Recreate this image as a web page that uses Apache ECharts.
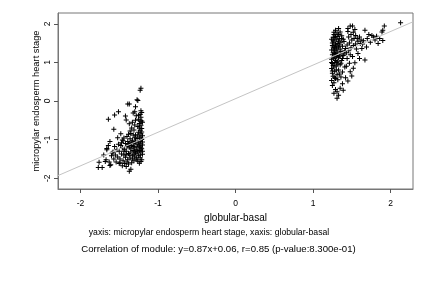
<!DOCTYPE html><html><head><meta charset="utf-8">
<script src="https://cdn.jsdelivr.net/npm/echarts@6/dist/echarts.min.js"></script>
<style>html,body{margin:0;padding:0;background:#fff}#c{width:432px;height:288px}</style>
</head><body><div id="c"></div><script>
const xTicks=[-2,-1,0,1,2];
const yTicks=[-2,-1,0,1,2];
const xTitle='globular-basal';
const yTitle='micropylar endosperm heart stage';
const subtitle1='yaxis: micropylar endosperm heart stage, xaxis: globular-basal';
const subtitle2='Correlation of module: y=0.87x+0.06, r=0.85 (p-value:8.300e-01)';
const fitSlope=0.87, fitIntercept=0.06;
const xRange=[-2.29,2.29];
const yRange=[-2.28,2.28];
const groupA=[
[-1.23,0.28],[-1.22,0.33],[-1.26,0.01],[-1.27,0.03],[-1.39,-0.08],[-1.37,-0.08],[-1.29,-0.15],[-1.51,-0.28],[-1.56,-0.36],[-1.64,-0.47],[-1.42,-0.39],[-1.57,-0.73],[-1.64,-1.15],[-1.66,-1.23],[-1.76,-1.59],[-1.77,-1.72],[-1.72,-1.72],[-1.68,-1.57],[-1.62,-1.67],[-1.35,-1.77],[-1.37,-1.82],
[-1.21,-0.30],[-1.23,-0.35],[-1.22,-0.42],[-1.25,-0.47],[-1.21,-0.52],[-1.24,-0.58],[-1.22,-0.63],[-1.26,-0.66],[-1.21,-0.71],[-1.23,-0.76],[-1.25,-0.81],[-1.22,-0.85],[-1.20,-0.90],[-1.24,-0.93],[-1.27,-0.97],[-1.21,-1.00],[-1.23,-1.04],[-1.25,-1.07],[-1.22,-1.11],[-1.20,-1.14],[-1.26,-1.17],[-1.23,-1.20],[-1.21,-1.24],[-1.24,-1.28],[-1.22,-1.32],[-1.27,-1.35],[-1.20,-1.38],[-1.25,-1.42],[-1.23,-1.47],[-1.21,-1.52],[-1.26,-1.56],[-1.24,-1.61],[-1.22,-0.25],[-1.28,-0.38],[-1.29,-0.88],[-1.28,-1.25],[-1.30,-1.45],
[-1.20,-0.55],[-1.24,-0.70],[-1.21,-0.80],[-1.26,-0.88],[-1.22,-0.96],[-1.20,-1.06],[-1.27,-1.12],[-1.24,-1.16],[-1.22,-1.22],[-1.20,-1.30],[-1.26,-1.30],[-1.23,-1.40],[-1.28,-1.48],[-1.22,-1.57],[-1.25,-0.37],[-1.23,-0.52],
[-1.30,-0.95],[-1.33,-1.02],[-1.36,-0.98],[-1.39,-1.05],[-1.42,-1.10],[-1.45,-1.03],[-1.48,-1.15],[-1.31,-1.10],[-1.34,-1.15],[-1.37,-1.20],[-1.40,-1.18],[-1.43,-1.25],[-1.46,-1.22],[-1.50,-1.30],[-1.53,-1.26],[-1.32,-1.28],[-1.35,-1.32],[-1.38,-1.36],[-1.41,-1.30],[-1.44,-1.40],[-1.47,-1.37],[-1.52,-1.45],[-1.55,-1.40],[-1.33,-1.42],[-1.36,-1.48],[-1.39,-1.52],[-1.42,-1.46],[-1.45,-1.55],[-1.49,-1.50],[-1.31,-1.55],[-1.34,-1.60],[-1.38,-1.63],[-1.43,-1.62],[-1.30,-1.20],[-1.29,-1.35],[-1.32,-0.88],[-1.35,-0.84],[-1.40,-0.92],[-1.44,-0.96],[-1.47,-1.08],[-1.51,-1.12],[-1.56,-1.18],[-1.58,-1.32],[-1.60,-1.42],[-1.57,-1.50],[-1.54,-1.58],[-1.50,-1.62],[-1.46,-1.68],[-1.41,-1.70],[-1.29,-1.05],[-1.31,-0.75],[-1.34,-0.70],[-1.30,-0.62],[-1.33,-0.55],[-1.29,-0.50],[-1.36,-0.78],[-1.38,-0.86],
[-1.32,-1.18],[-1.35,-1.24],[-1.38,-1.12],[-1.41,-1.38],[-1.44,-1.30],[-1.31,-1.38],[-1.34,-1.08],[-1.37,-1.40],[-1.40,-1.58],[-1.30,-1.30],[-1.33,-1.50],[-1.36,-1.10],
[-1.46,-1.01],[-1.41,-0.49],[-1.37,-0.59],[-1.32,-0.31],[-1.30,-0.28],[-1.27,-1.52],[-1.49,-1.60],[-1.61,-1.65],[-1.67,-1.52],[-1.59,-1.35],[-1.66,-1.26],[-1.70,-1.40],[-1.63,-1.58],[-1.52,-0.95],[-1.48,-0.85],[-1.62,-1.05]
];
const groupB=[
[2.13,2.03],[1.92,1.94],[1.90,1.83],[1.89,1.79],[1.84,1.49],[1.90,1.57],[1.67,1.06],[1.50,0.65],[1.48,0.76],[1.54,0.99],[1.39,0.28],[1.31,0.24],[1.35,0.33],[1.31,0.07],[1.48,1.94],[1.51,1.94],[1.33,1.88],[1.67,1.83],[1.76,1.70],[1.78,1.66],[1.61,1.49],[1.58,1.23],[1.69,1.40],[1.72,1.72],[1.80,1.58],[1.86,1.62],[1.45,0.52],[1.42,0.60],[1.38,0.45],[1.52,0.85],[1.60,1.10],[1.63,1.36],[1.74,1.52],[1.82,1.68],[1.70,1.62],[1.65,1.56],
[1.25,0.40],[1.27,0.47],[1.24,0.53],[1.29,0.58],[1.26,0.64],[1.31,0.68],[1.25,0.72],[1.28,0.77],[1.33,0.80],[1.24,0.84],[1.27,0.88],[1.30,0.91],[1.35,0.94],[1.25,0.97],[1.28,1.00],[1.32,1.03],[1.37,1.05],[1.24,1.08],[1.27,1.11],[1.30,1.14],[1.34,1.16],[1.39,1.18],[1.25,1.20],[1.28,1.23],[1.31,1.26],[1.36,1.28],[1.41,1.30],[1.24,1.32],[1.27,1.35],[1.30,1.37],[1.33,1.40],[1.38,1.42],[1.25,1.44],[1.29,1.47],[1.32,1.49],[1.36,1.52],[1.40,1.54],[1.26,1.56],[1.30,1.59],[1.34,1.61],[1.28,1.64],[1.32,1.67],[1.37,1.69],[1.27,1.72],[1.31,1.76],[1.35,1.79],[1.29,1.83],[1.26,1.25],[1.29,1.05],[1.33,1.12],[1.26,0.92],[1.30,0.80],[1.34,0.70],[1.28,0.60],[1.32,0.55],[1.36,0.98],[1.38,1.10],[1.40,1.22],[1.42,1.36],[1.25,1.50],[1.28,1.38],[1.31,1.18],[1.35,1.35],[1.26,1.65],[1.39,1.60],[1.29,0.30],[1.27,0.20],[1.33,0.15],[1.38,0.75],[1.41,0.88],[1.36,0.62],
[1.24,1.00],[1.26,1.12],[1.28,1.30],[1.30,1.42],[1.27,1.53],[1.29,1.68],[1.33,1.55],[1.31,1.32],[1.35,1.22],[1.26,1.40],[1.24,1.60],[1.28,1.16],[1.32,0.96],[1.25,0.78],[1.30,1.00],[1.34,1.45],[1.37,1.62],[1.27,1.78],[1.33,1.72],[1.29,1.22],
[1.44,1.45],[1.47,1.50],[1.50,1.58],[1.53,1.62],[1.46,1.66],[1.49,1.72],[1.52,1.78],[1.45,1.80],[1.55,1.70],[1.58,1.55],[1.43,1.25],[1.46,1.30],[1.49,1.38],[1.52,1.44],[1.55,1.48],[1.57,1.62],[1.60,1.66],[1.48,1.20],[1.51,1.15],[1.44,1.10],[1.47,0.98],[1.43,0.90],[1.62,1.58],[1.64,1.48],[1.56,1.35],[1.45,1.88],[1.54,1.85]
];
const fitLine=xRange.map(x=>[x,fitSlope*x+fitIntercept]);
const FONT='Liberation Sans';
const plus='path://M2,0H3V2H5V3H3V5H2V3H0V2H2Z';
const chart=echarts.init(document.getElementById('c'),null,{renderer:'canvas'});
chart.setOption({
  animation:false,
  backgroundColor:'#fff',
  grid:{left:58,right:19,top:13,bottom:99,show:true,borderColor:'#777',borderWidth:1,containLabel:false},
  xAxis:{type:'value',min:xRange[0],max:xRange[1],
    name:xTitle,nameLocation:'middle',nameGap:22,nameTextStyle:{fontFamily:FONT,fontSize:10,color:'#000'},
    axisLine:{show:true,onZero:false,lineStyle:{color:'#777',width:1}},
    axisTick:{show:true,length:4,inside:false,customValues:xTicks,lineStyle:{color:'#555'}},
    axisLabel:{customValues:xTicks,margin:10,fontFamily:FONT,fontSize:8.5,color:'#000'},
    splitLine:{show:false}},
  yAxis:{type:'value',min:yRange[0],max:yRange[1],
    name:yTitle,nameLocation:'middle',nameGap:17,nameRotate:90,nameMoveOverlap:false,nameTextStyle:{fontFamily:FONT,fontSize:9.3,color:'#000'},
    axisLine:{show:true,onZero:false,lineStyle:{color:'#777',width:1}},
    axisTick:{show:true,length:4,inside:false,customValues:yTicks,lineStyle:{color:'#555'}},
    axisLabel:{customValues:yTicks,rotate:90,margin:6,fontFamily:FONT,fontSize:8.5,color:'#000'},
    splitLine:{show:false}},
  graphic:[
    {type:'text',x:209,y:233,style:{text:subtitle1,fontFamily:FONT,fontSize:8.7,fill:'#000',align:'center',verticalAlign:'middle',textAlign:'center',textVerticalAlign:'middle'}},
    {type:'text',x:218.5,y:249,style:{text:subtitle2,fontFamily:FONT,fontSize:9.6,fill:'#000',align:'center',verticalAlign:'middle',textAlign:'center',textVerticalAlign:'middle'}}
  ],
  series:[
    {type:'scatter',data:groupA,symbol:plus,symbolSize:5,itemStyle:{color:'#000',opacity:1},z:2},
    {type:'scatter',data:groupB,symbol:plus,symbolSize:5,itemStyle:{color:'#000',opacity:1},z:2},
    {type:'line',data:fitLine,symbol:'none',lineStyle:{color:'#c4c4c4',width:1},z:3}
  ]
});
</script></body></html>
